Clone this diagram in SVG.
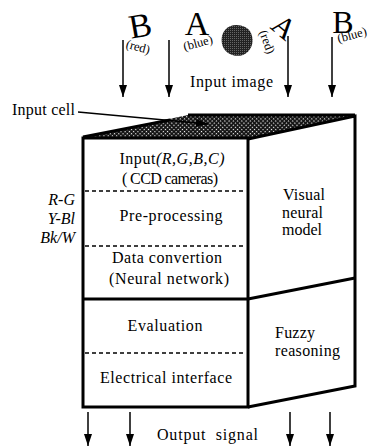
<svg xmlns="http://www.w3.org/2000/svg" width="368" height="447" viewBox="0 0 368 447">
<defs>
<style>
.t{font-size:16px;text-anchor:middle}
.l{font-size:16px}
.i{font-size:16px;font-style:italic;text-anchor:end}
.s{font-size:12.5px;text-anchor:middle}
.big{font-size:34px;text-anchor:middle}
.thick{stroke:#000;stroke-width:3;fill:none;stroke-linejoin:miter}
.dash{stroke:#000;stroke-width:1.3;stroke-dasharray:4 3;fill:none}
.arr{stroke:#000;stroke-width:1.5;fill:none;marker-end:url(#ah)}
</style>
<marker id="ah" markerUnits="userSpaceOnUse" markerWidth="13" markerHeight="8" refX="12" refY="4" orient="auto" viewBox="0 0 13 8">
<path d="M0,0 L12,4 L0,8 Z" fill="#000"/>
</marker>
<pattern id="hatch" width="3" height="3" patternUnits="userSpaceOnUse" patternTransform="rotate(45)">
<rect width="3" height="3" fill="#111"/>
<rect x="1" y="1" width="1.2" height="1.2" fill="#fff"/>
</pattern>
<pattern id="stip" width="2" height="2" patternUnits="userSpaceOnUse">
<rect width="2" height="2" fill="#222"/>
<rect width="1" height="1" fill="#666"/>
</pattern>
</defs>
<rect width="368" height="447" fill="#fff"/>
<g font-family="'Liberation Serif', 'Times New Roman', 'DejaVu Serif', serif" fill="#000">

<g id="input-image">
<text class="big" transform="rotate(-10 140 25)" x="140" y="37">B</text>
<text class="s" transform="rotate(15 138 47)" x="138" y="51">(red)</text>
<text class="big" x="197" y="35">A</text>
<text class="s" transform="rotate(-15 198 43)" x="198" y="47">(blue)</text>
<path d="M225,30 C231,22 247,24 251,33 C255,42 251,52 243,55 C234,58 224,53 222,44 C221,38 222,34 225,30 Z" fill="url(#stip)"/>
<text class="s" transform="rotate(70 267 42)" x="267" y="46">(red)</text>
<text class="big" style="font-size:30px" transform="rotate(40 284 27)" x="284" y="37">A</text>
<text class="big" style="font-size:32px" x="343" y="33">B</text>
<text class="s" transform="rotate(-15 352 35)" x="352" y="39">(blue)</text>
<text class="l" x="190" y="87" textLength="83" lengthAdjust="spacing">Input image</text>
</g>

<g id="input-cell">
<text class="l" x="12" y="115" textLength="63" lengthAdjust="spacing">Input cell</text>
</g>

<g id="top-face">
<polygon points="83,137 188,115 355,115 248,139" fill="url(#hatch)" stroke="none"/>
<polyline class="thick" points="83,137 170,120"/>
<line class="thick" x1="188" y1="115" x2="355" y2="115"/>
</g>

<g id="front-face">
<rect class="thick" x="83" y="138" width="165" height="269"/>
<line class="thick" x1="83" y1="299" x2="248" y2="299"/>
<line class="dash" x1="85" y1="191" x2="246" y2="191"/>
<line class="dash" x1="85" y1="246" x2="246" y2="246"/>
<line class="dash" x1="85" y1="353" x2="246" y2="353"/>
<text class="t" x="172" y="164" textLength="105" lengthAdjust="spacing">Input<tspan font-style="italic">(R,G,B,C)</tspan></text>
<text class="t" x="170" y="184" textLength="96" lengthAdjust="spacing">( CCD cameras)</text>
<text class="t" x="171" y="221" textLength="103" lengthAdjust="spacing">Pre-processing</text>
<text class="t" x="167" y="263" textLength="110" lengthAdjust="spacing">Data convertion</text>
<text class="t" x="169" y="284" textLength="120" lengthAdjust="spacing">(Neural network)</text>
<text class="t" x="165" y="331" textLength="75" lengthAdjust="spacing">Evaluation</text>
<text class="t" x="166" y="383" textLength="132" lengthAdjust="spacing">Electrical interface</text>
</g>

<g id="side-face">
<polyline class="thick" points="248,139 355,116 355,386 248,407"/>
<line class="thick" x1="248" y1="299" x2="355" y2="278"/>
<text class="l" x="283" y="200" textLength="42" lengthAdjust="spacing">Visual</text>
<text class="l" x="282" y="218" textLength="41" lengthAdjust="spacing">neural</text>
<text class="l" x="282" y="235" textLength="40" lengthAdjust="spacing">model</text>
<text class="l" x="275" y="338" textLength="40" lengthAdjust="spacing">Fuzzy</text>
<text class="l" x="275" y="356" textLength="65" lengthAdjust="spacing">reasoning</text>
</g>

<g id="color-channels">
<text class="i" x="75" y="205">R-G</text>
<text class="i" x="75" y="224">Y-Bl</text>
<text class="i" x="75" y="243">Bk/W</text>
</g>

<g id="output">
<text class="l" x="157" y="440" xml:space="preserve" textLength="101" lengthAdjust="spacing">Output  signal</text>
</g>

<g id="connectors">
<line class="arr" x1="123" y1="40" x2="123" y2="97"/>
<line class="arr" x1="169" y1="40" x2="169" y2="97"/>
<line class="arr" x1="288" y1="36" x2="288" y2="97"/>
<line class="arr" x1="332" y1="37" x2="332" y2="97"/>
<line class="arr" x1="78" y1="112" x2="208" y2="124"/>
<line class="arr" x1="88" y1="412" x2="88" y2="446"/>
<line class="arr" x1="130" y1="412" x2="130" y2="446"/>
<line class="arr" x1="290" y1="412" x2="290" y2="446"/>
<line class="arr" x1="330" y1="412" x2="330" y2="446"/>
</g>
</g>
</svg>
